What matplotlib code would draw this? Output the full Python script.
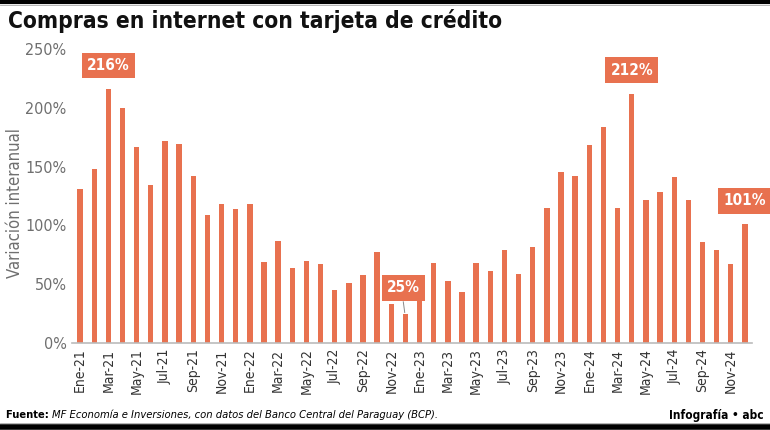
import numpy as np
import matplotlib.pyplot as plt
from matplotlib import font_manager

# ==========================================
# DATA
# ==========================================
months = ["Ene", "Feb", "Mar", "Abr", "May", "Jun", "Jul", "Ago", "Sep", "Oct", "Nov", "Dic"]
years = ["21", "22", "23", "24"]
labels = [f"{m}-{y}" for y in years for m in months]

variacion = [131, 148, 216, 200, 167, 134, 172, 169, 142, 109, 118, 114,
             118, 69, 87, 64, 70, 67, 45, 51, 58, 77, 33, 25,
             38, 68, 53, 43, 68, 61, 79, 59, 82, 115, 145, 142,
             168, 184, 115, 212, 122, 128, 141, 122, 86, 79, 67, 101]

highlight = {"Mar-21": "216%", "Dic-22": "25%", "Abr-24": "212%", "Dic-24": "101%"}
yticks = [0, 50, 100, 150, 200, 250]

ORANGE = "#E8714F"
GREY = "#6f6f6f"

# condensed face if the system has one
cond = [f for f in font_manager.fontManager.ttflist
        if f.name == "DejaVu Sans" and f.stretch == "condensed"]
NARROW = dict(family="DejaVu Sans", stretch="condensed") if cond else dict(family="DejaVu Sans")

# ==========================================
# FIGURE
# ==========================================
fig = plt.figure(figsize=(7.7, 4.3), dpi=100)
ax = fig.add_axes([72 / 770, 87 / 430, 680 / 770, 294 / 430])

x = np.arange(len(variacion))
ax.bar(x, variacion, width=0.38, color=ORANGE, zorder=2)

ax.set_xlim(-0.57, len(variacion) - 0.5)
ax.set_ylim(0, 250)
ax.set_yticks(yticks)
ax.set_yticklabels([f"{v}%" for v in yticks], fontsize=11.5, color=GREY, **NARROW)
ax.set_xticks(x[::2])
ax.set_xticklabels([labels[i] for i in x[::2]], rotation=90,
                   fontsize=10, color="#333333", **NARROW)
ax.tick_params(length=0, pad=4)
for s in ["top", "right", "left"]:
    ax.spines[s].set_visible(False)
ax.spines["bottom"].set_color("#bbbbbb")
ax.spines["bottom"].set_linewidth(1.2)

ax.set_ylabel("Variación interanual", fontsize=12, color=GREY, **NARROW)
ax.yaxis.set_label_coords(-0.071, 0.476)

# value boxes
for i, lab in enumerate(labels):
    if lab in highlight:
        v = variacion[i]
        if lab == "Dic-22":
            ax.plot([i - 0.15, i - 0.05], [v + 10, v + 1], color="#888888", lw=0.7, zorder=3)
            tx, ty = i - 0.15, v + 22
        else:
            tx, ty = i, v + 20
        ax.text(tx, ty, highlight[lab], ha="center", va="center", fontsize=11,
                fontweight="bold", color="white", zorder=4, **NARROW,
                bbox=dict(boxstyle="square,pad=0.35", fc=ORANGE, ec="none"))

# title, frame lines, footer
fig.text(8 / 770, 1 - 21 / 430, "Compras en internet con tarjeta de crédito", fontsize=16.3,
         fontweight="bold", va="center", ha="left", color="#111111", **NARROW)
fig.add_artist(plt.Line2D([0, 1], [1 - 1.5 / 430] * 2, color="black", lw=3))
fig.add_artist(plt.Line2D([0, 1], [1 - 4.5 / 430] * 2, color="#aaaaaa", lw=0.6))
fig.add_artist(plt.Line2D([0, 1], [3 / 430] * 2, color="black", lw=4))
fig.add_artist(plt.Line2D([0, 1], [7 / 430] * 2, color="#aaaaaa", lw=0.6))

t = fig.text(6 / 770, 1 - 415 / 430, "Fuente: ", fontsize=8, fontweight="bold",
             va="center", ha="left", **NARROW)
fig.canvas.draw()
bb = t.get_window_extent()
fig.text(bb.x1 / 770, 1 - 415 / 430,
         "MF Economía e Inversiones, con datos del Banco Central del Paraguay (BCP).",
         fontsize=8, style="italic", va="center", ha="left", **NARROW)
fig.text(764 / 770, 1 - 415 / 430, "Infografía • abc", fontsize=8.5, fontweight="bold",
         va="center", ha="right", **NARROW)

fig.savefig("out.png", dpi=100)
